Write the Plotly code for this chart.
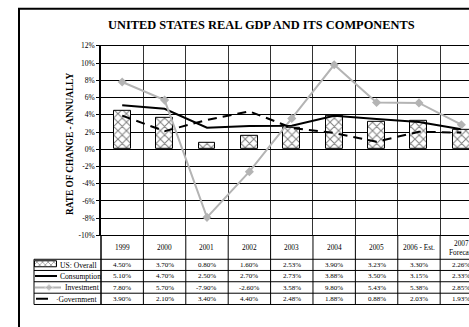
import plotly.graph_objects as go

years = ["1999", "2000", "2001", "2002", "2003", "2004", "2005", "2006 - Est.", "2007<br>Forecast"]
us_overall = [4.50, 3.70, 0.80, 1.60, 2.53, 3.90, 3.23, 3.30, 2.26]
consumption = [5.10, 4.70, 2.50, 2.70, 2.73, 3.88, 3.50, 3.15, 2.33]
investment = [7.80, 5.70, -7.90, -2.60, 3.58, 9.80, 5.43, 5.38, 2.85]
government = [3.90, 2.10, 3.40, 4.40, 2.48, 1.88, 0.88, 2.03, 1.93]
series_names = ["US: Overall", "Consumption", "Investment", "\u00b7Government"]
y_ticks = list(range(-10, 13, 2))

W, H = 469, 327
FONT = "Liberation Serif, Times New Roman, serif"
GRAY = "#b4b4b4"


def px(x):
    return x / W


def py(y):
    return (H - y) / H


PLOT_L, PLOT_T, PLOT_B = 101, 43, 238
ROWS = [262.5, 274.0, 285.6, 297.4, 309.0]

fig = go.Figure()

pattern = dict(shape="x", fgcolor="black", bgcolor="white", size=6, solidity=0.3)

fig.add_trace(go.Bar(x=years, y=us_overall, width=0.4,
                     marker=dict(color="white", line=dict(color="black", width=1), pattern=pattern)))
fig.add_trace(go.Scatter(x=years, y=consumption, mode="lines",
                         line=dict(color="black", width=2)))
fig.add_trace(go.Scatter(x=years, y=investment, mode="lines+markers",
                         line=dict(color=GRAY, width=2),
                         marker=dict(symbol="diamond", size=7, color=GRAY)))
fig.add_trace(go.Scatter(x=years, y=government, mode="lines",
                         line=dict(color="black", width=2, dash="9px,6px")))

# legend symbols in the table's first column
fig.add_trace(go.Bar(orientation="h", y=[268], x=[22], base=[35], width=6,
                     marker=dict(color="white", line=dict(color="black", width=1),
                                 pattern=dict(shape="x", fgcolor="black", bgcolor="white", size=4, solidity=0.3)),
                     xaxis="x2", yaxis="y2"))
fig.add_trace(go.Scatter(x=[35, 57], y=[279.8, 279.8], mode="lines",
                         line=dict(color="black", width=2), xaxis="x2", yaxis="y2"))
fig.add_trace(go.Scatter(x=[35, 49, 61], y=[291.5, 291.5, 291.5], mode="lines+markers",
                         line=dict(color=GRAY, width=2),
                         marker=dict(symbol="diamond", size=[0, 6, 0], color=GRAY),
                         xaxis="x2", yaxis="y2"))
fig.add_trace(go.Scatter(x=[36, 48], y=[303.2, 303.2], mode="lines",
                         line=dict(color="black", width=2), xaxis="x2", yaxis="y2"))

shapes = []
# outer frame
shapes.append(dict(type="rect", xref="paper", yref="paper",
                   x0=px(19), x1=px(W + 20), y0=py(H + 20), y1=py(5),
                   line=dict(color="black", width=2)))
# table horizontal lines
for r in ROWS:
    shapes.append(dict(type="line", xref="paper", yref="paper",
                       x0=px(34), x1=1.0, y0=py(r), y1=py(r),
                       line=dict(color="black", width=1)))
# left edge of legend column
shapes.append(dict(type="line", xref="paper", yref="paper",
                   x0=px(34), x1=px(34), y0=py(ROWS[0]), y1=py(ROWS[-1]),
                   line=dict(color="black", width=1)))
# vertical column lines through table
for i in range(1, len(years) + 1):
    shapes.append(dict(type="line", xref="x", yref="paper",
                       x0=i - 0.5, x1=i - 0.5, y0=py(PLOT_B), y1=py(ROWS[-1]),
                       line=dict(color="black", width=1)))
shapes.append(dict(type="line", xref="paper", yref="paper",
                   x0=px(PLOT_L), x1=px(PLOT_L), y0=py(PLOT_B), y1=py(ROWS[-1]),
                   line=dict(color="black", width=1.5)))

annotations = []
annotations.append(dict(text="<b>UNITED STATES REAL GDP AND ITS COMPONENTS</b>",
                        xref="paper", yref="paper", x=px(261), y=py(22),
                        xanchor="center", yanchor="middle",
                        showarrow=False, font=dict(family=FONT, size=12.4, color="black")))
annotations.append(dict(text="<b>RATE OF CHANGE - ANNUALLY</b>", textangle=-90,
                        xref="paper", yref="paper", x=px(70), y=py(144),
                        xanchor="center", yanchor="middle",
                        showarrow=False, font=dict(family=FONT, size=9.3, color="black")))
for i, yr in enumerate(years):
    annotations.append(dict(text=yr, xref="x", yref="paper", x=i, y=py(250.5),
                            xanchor="center", yanchor="middle",
                            showarrow=False, font=dict(family=FONT, size=7.3, color="black")))
centers = [(ROWS[k] + ROWS[k + 1]) / 2 for k in range(4)]
for vals, c in zip([us_overall, consumption, investment, government], centers):
    for i, v in enumerate(vals):
        annotations.append(dict(text=f"{v:.2f}%", xref="x", yref="paper", x=i, y=py(c + 0.3),
                                xanchor="center", yanchor="middle",
                                showarrow=False, font=dict(family=FONT, size=7, color="black")))
label_x = [58, 58, 63, 54]
for name, c, lx in zip(series_names, centers, label_x):
    annotations.append(dict(text=name, xref="paper", yref="paper", x=px(lx), y=py(c + 0.3),
                            xanchor="left", yanchor="middle", showarrow=False,
                            font=dict(family=FONT, size=7.6, color="black")))

fig.update_layout(
    width=W, height=H,
    margin=dict(l=0, r=0, t=0, b=0),
    paper_bgcolor="white", plot_bgcolor="white",
    showlegend=False,
    bargap=0,
    xaxis=dict(type="category", categoryorder="array", categoryarray=years,
               domain=[px(PLOT_L), 1.0], range=[-0.5, 8.18],
               tickson="boundaries", showgrid=True, gridcolor="#333", gridwidth=1,
               showticklabels=False, ticks="", showline=True, linecolor="black",
               linewidth=1, mirror=True, anchor="y", fixedrange=True),
    yaxis=dict(domain=[py(PLOT_B), py(PLOT_T)], range=[-10, 12],
               tickvals=y_ticks, ticktext=[f"{v}%" for v in y_ticks],
               showgrid=True, gridcolor="black", gridwidth=1,
               zeroline=True, zerolinecolor="black", zerolinewidth=1,
               ticks="outside", ticklen=3, tickcolor="black",
               showline=True, linecolor="black", linewidth=1.5,
               tickfont=dict(family=FONT, size=7.5, color="black"),
               anchor="x", fixedrange=True),
    xaxis2=dict(domain=[px(34), px(PLOT_L)], range=[34, PLOT_L], visible=False,
                anchor="y2", fixedrange=True),
    yaxis2=dict(domain=[py(ROWS[-1]), py(ROWS[0])], range=[ROWS[-1], ROWS[0]],
                visible=False, anchor="x2", fixedrange=True),
    shapes=shapes,
    annotations=annotations,
)

fig.write_html("out.html", config={"displayModeBar": False},
               post_script="document.body.style.margin='0';document.body.style.overflow='hidden';")
